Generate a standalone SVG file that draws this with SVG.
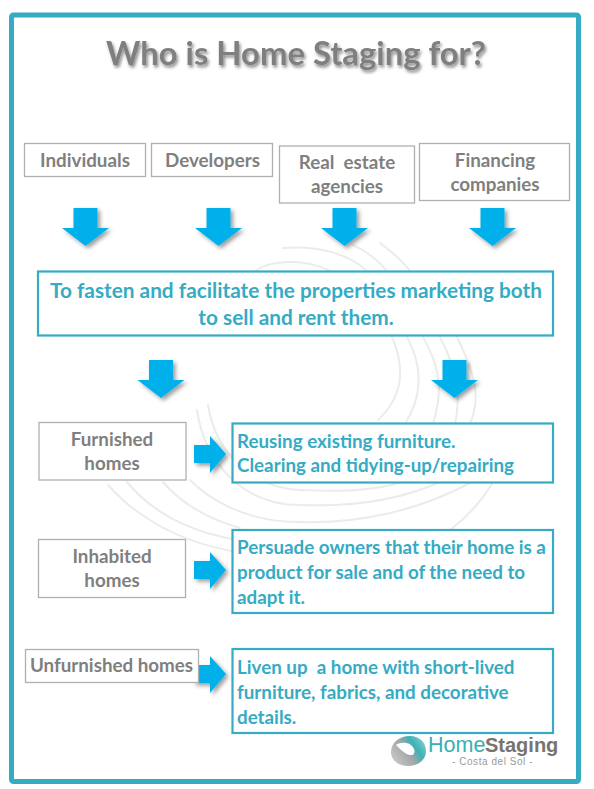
<svg xmlns="http://www.w3.org/2000/svg" width="594" height="789" viewBox="0 0 594 789">
<defs>
<style>
text{font-family:"Lato","Carlito","Open Sans",sans-serif;font-weight:700;white-space:pre}
.g{fill:#7f7f7f;font-size:18.8px;text-anchor:middle}
.t{fill:#35abc4;font-size:18.8px}
.tl{font-size:20.8px;text-anchor:middle}
.gb{fill:#fff;stroke:#b0b0b0;stroke-width:1.3}
.tb{fill:#fff;stroke:#35abc4;stroke-width:2.2}
.a{fill:#00b0ea;filter:url(#s)}
.sw{fill:none;stroke:#ecece7;stroke-width:2;stroke-linecap:round}
.l{font-family:"Liberation Sans",sans-serif}
</style>
<filter id="s" x="-30%" y="-30%" width="170%" height="170%"><feDropShadow dx="2.500" dy="2.500" stdDeviation="2" flood-color="#000" flood-opacity=".4"/></filter>
<filter id="ts" x="-5%" y="-30%" width="110%" height="170%"><feDropShadow dx="1.500" dy="2.500" stdDeviation="1.800" flood-color="#000" flood-opacity=".45"/></filter>
<path id="ad" d="M-12 0H12V20H23.500L0 38L-23.500 20H-12Z"/>
<path id="ar" d="M0 9H16V0L32 18L16 37V27H0Z"/>
<linearGradient id="lg" x1="0" y1=".8" x2="1" y2=".2"><stop offset="0" stop-color="#c9c9c9"/><stop offset=".45" stop-color="#a5a8a8"/><stop offset=".7" stop-color="#3fb1b5"/><stop offset="1" stop-color="#7fcfd0"/></linearGradient>
</defs>
<rect width="594" height="789" fill="#fff"/>
<rect id="frame" x="11.500" y="15" width="567" height="766.500" rx="2" fill="#fff" stroke="#35abc4" stroke-width="5"/>
<g id="swirl">
<path class="sw" d="M255 271C270 260 305 258 330 271"/>
<path class="sw" d="M283 248C320 245 350 255 367 271"/>
<path class="sw" d="M353 245C368 252 378 260 387 271"/>
<path class="sw" d="M380 243C392 252 402 260 410 271"/>
<path class="sw" d="M392 337C404 365 405 395 378 420"/>
<path class="sw" d="M407 337C425 370 420 400 405 424"/>
<path class="sw" d="M423 337C445 375 440 400 433 424"/>
<path class="sw" d="M440 337C460 375 460 400 455 424"/>
<path class="sw" d="M457 337C478 380 480 400 470 424"/>
<path class="sw" d="M208 405C215 450 250 488 300 490C345 492 385 490 405 480"/>
<path class="sw" d="M197 410C205 465 245 505 300 505C350 507 400 500 440 482"/>
<path class="sw" d="M190 480C205 495 240 522 300 522C360 524 420 510 472 482"/>
<path class="sw" d="M163 482C180 502 205 518 240 528"/>
<path class="sw" d="M127 482C150 510 185 530 232 539"/>
<path class="sw" d="M108 485C130 510 170 540 232 551"/>
<path class="sw" d="M492 484C482 500 470 515 450 530"/>
</g>
<g id="connectors">
<use href="#ad" class="a" x="85.500" y="208"/>
<use href="#ad" class="a" x="218.500" y="208"/>
<use href="#ad" class="a" x="344.500" y="208"/>
<use href="#ad" class="a" x="492.500" y="208"/>
<use href="#ad" class="a" x="161" y="360"/>
<use href="#ad" class="a" x="454.500" y="360"/>
<use href="#ar" class="a" x="194" y="436"/>
<use href="#ar" class="a" x="194" y="552"/>
<use href="#ar" class="a" x="194" y="656"/>
</g>
<g id="individuals"><rect class="gb" x="24.500" y="143.500" width="121" height="33"/><text class="g" x="85" y="167">Individuals</text></g>
<g id="developers"><rect class="gb" x="151.500" y="143.500" width="121" height="33"/><text class="g" x="212.500" y="167">Developers</text></g>
<g id="real-estate"><rect class="gb" x="279.500" y="146" width="135" height="57"/><text class="g" x="347" y="169">Real  estate</text><text class="g" x="347" y="193">agencies</text></g>
<g id="financing"><rect class="gb" x="419.500" y="143.500" width="150" height="57"/><text class="g" x="495" y="167">Financing</text><text class="g" x="495" y="191">companies</text></g>
<g id="goal"><rect class="tb" x="38" y="271.500" width="515" height="64"/><text class="t tl" x="296" y="298">To fasten and facilitate the properties marketing both</text><text class="t tl" x="296" y="325">to sell and rent them.</text></g>
<g id="furnished"><rect class="gb" x="39" y="422.500" width="147" height="57.500"/><text class="g" x="112" y="446">Furnished</text><text class="g" x="112" y="470">homes</text></g>
<g id="furnished-detail"><rect class="tb" x="232.500" y="423.500" width="320.500" height="59"/><text class="t" x="237" y="448">Reusing existing furniture.</text><text class="t" x="237" y="472">Clearing and tidying-up/repairing</text></g>
<g id="inhabited"><rect class="gb" x="38.500" y="539.500" width="147" height="58"/><text class="g" x="112" y="563">Inhabited</text><text class="g" x="112" y="587">homes</text></g>
<g id="inhabited-detail"><rect class="tb" x="232.500" y="530" width="320.500" height="83"/><text class="t" x="237" y="554">Persuade owners that their home is a</text><text class="t" x="237" y="579">product for sale and of the need to</text><text class="t" x="237" y="604">adapt it.</text></g>
<g id="unfurnished"><rect class="gb" x="25.500" y="649.500" width="173" height="33"/><text class="g" x="111.500" y="672">Unfurnished homes</text></g>
<g id="unfurnished-detail"><rect class="tb" x="232.500" y="649" width="320.500" height="84"/><text class="t" x="237" y="674">Liven up  a home with short-lived</text><text class="t" x="237" y="699">furniture, fabrics, and decorative</text><text class="t" x="237" y="724">details.</text></g>
<g id="logo">
<path fill-rule="evenodd" fill="url(#lg)" d="M391 752C391 742 400 736 410 736C420 736 426 743 426 751C426 760 418 766 408 766C398 766 391 760 391 752ZM396 745C402 741 411 742 414 749C416 755 411 757 405 753C402 751 399 748 396 745Z"/>
<text class="l" x="428" y="752" font-size="21.500" style="font-weight:400" fill="#3ab0b4">Home</text>
<text class="l" x="485" y="752" font-size="20" fill="#77746f">Staging</text>
<text class="l" x="452" y="765" font-size="10" letter-spacing=".55" style="font-weight:400" fill="#9a9a9a">- Costa del Sol -</text>
</g>
<text id="title" x="296" y="65" text-anchor="middle" font-size="32.800" fill="#7f7f7f" filter="url(#ts)">Who is Home Staging for?</text>
</svg>
